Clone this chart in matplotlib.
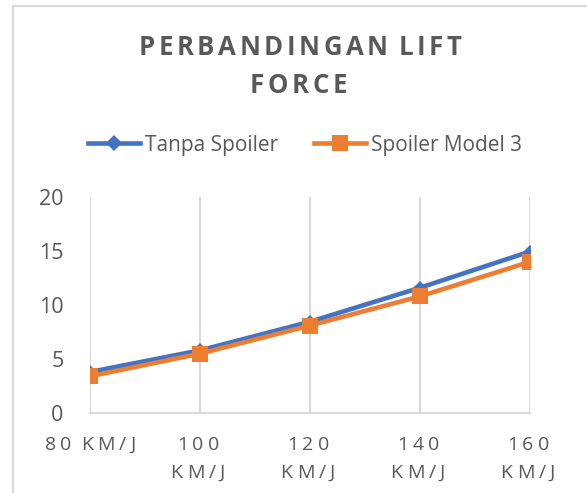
import matplotlib
matplotlib.use("Agg")
import matplotlib.pyplot as plt
from matplotlib.lines import Line2D

# ---- data ----
categories = ["80 KM/J", "100\nKM/J", "120\nKM/J", "140\nKM/J", "160\nKM/J"]
tanpa_spoiler = [3.8, 5.8, 8.45, 11.6, 14.95]
spoiler_model3 = [3.4, 5.5, 8.1, 10.8, 14.0]
y_ticks = [0, 5, 10, 15, 20]
title_lines = ["PERBANDINGAN LIFT", "FORCE"]
series_names = ["Tanpa Spoiler", "Spoiler Model 3"]

W, H = 587, 493
DPI = 100
GRAY = "#595959"
GRID = "#D9D9D9"
BLUE = "#4472C4"
ORANGE = "#ED7D31"
FONT = ["Open Sans", "DejaVu Sans"]

fig = plt.figure(figsize=(W / DPI, H / DPI), dpi=DPI)
fig.patch.set_facecolor("white")


def fx(px):
    return px / W


def fy(py):
    return 1 - py / H


ax = fig.add_axes([fx(90), fy(413), fx(530) - fx(90), fy(197) - fy(413)])
x = list(range(len(categories)))
ax.plot(x, tanpa_spoiler, color=BLUE, lw=3.3, marker="D", ms=7.5, mew=0,
        solid_capstyle="round", zorder=3)
ax.plot(x, spoiler_model3, color=ORANGE, lw=3.3, marker="s", ms=12, mew=0,
        solid_capstyle="round", zorder=4)
ax.set_xlim(0, len(categories) - 1)
ax.set_ylim(y_ticks[0], y_ticks[-1])
ax.set_yticks(y_ticks)
ax.set_yticklabels([str(v) for v in y_ticks], fontsize=15.5, color=GRAY, family=FONT)
ax.tick_params(axis="y", length=0, pad=19)
ax.set_xticks(x)
ax.set_xticklabels([""] * len(x))
ax.tick_params(axis="x", length=0)
ax.grid(axis="x", color=GRID, lw=1.5)
ax.grid(axis="y", visible=False)
for s in ["top", "right", "left"]:
    ax.spines[s].set_visible(False)
ax.spines["bottom"].set_color(GRID)
ax.spines["bottom"].set_linewidth(1.5)
ax.set_facecolor("none")

renderer = fig.canvas.get_renderer()


def char_width(ch, **kw):
    if ch == " ":
        a = fig.text(0, 0, "aa", **kw)
        b = fig.text(0, 0, "a a", **kw)
        w = b.get_window_extent(renderer).width - a.get_window_extent(renderer).width
        a.remove(); b.remove()
        return w
    t = fig.text(0, 0, ch, **kw)
    w = t.get_window_extent(renderer).width
    t.remove()
    return w


def spaced_text(xc, ybase, s, gap, **kw):
    widths = [char_width(c, **kw) for c in s]
    gaps = [0 if (c == " " or (i + 1 < len(s) and s[i + 1] == " ")) else gap
            for i, c in enumerate(s)]
    total = sum(widths) + sum(gaps[:-1]) + gap
    xp = xc - total / 2
    for c, w, g in zip(s, widths, gaps):
        if c != " ":
            fig.text(fx(xp), fy(ybase), c, ha="left", va="baseline", **kw)
        xp += w + (g if c != " " else gap)


# title
tkw = dict(fontsize=18.5, fontweight="bold", color=GRAY, family=FONT)
spaced_text(300, 55, title_lines[0], 3.6, **tkw)
spaced_text(300, 93, title_lines[1], 3.6, **tkw)

# x tick labels (letter-spaced), positioned through the axes' data transform
xkw = dict(fontsize=14, color=GRAY, family=FONT)
for xi, lab in zip(x, categories):
    xpix = ax.transData.transform((xi, 0))[0]
    for li, line in enumerate(lab.split("\n")):
        spaced_text(xpix, 450 + li * 28, line, 4.3, **xkw)

# legend
handles = [
    Line2D([], [], color=BLUE, lw=3.3, marker="D", ms=8, mew=0),
    Line2D([], [], color=ORANGE, lw=3.3, marker="s", ms=11, mew=0),
]
leg = fig.legend(handles, series_names, loc="center", ncol=2,
                 bbox_to_anchor=(fx(305), fy(145)), bbox_transform=fig.transFigure,
                 frameon=False, handlelength=2.5, handletextpad=0.25,
                 columnspacing=1.7, prop={"family": FONT, "size": 15})
for t in leg.get_texts():
    t.set_color(GRAY)

# chart border (top and left edges visible)
fig.add_artist(Line2D([fx(13), fx(W + 5)], [fy(5.5), fy(5.5)], color=GRID, lw=1.5,
                      transform=fig.transFigure))
fig.add_artist(Line2D([fx(13), fx(13)], [fy(5.5), fy(H + 5)], color=GRID, lw=1.5,
                      transform=fig.transFigure))

fig.savefig("out.png", dpi=DPI, facecolor="white")
